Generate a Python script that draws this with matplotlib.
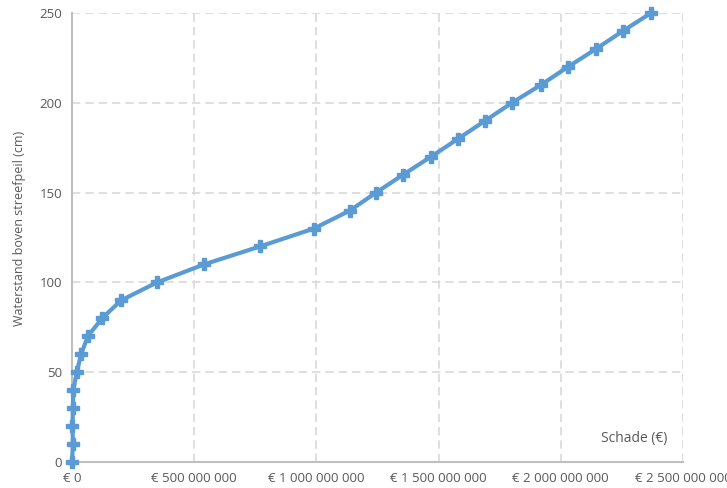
import matplotlib
matplotlib.use('Agg')
import matplotlib.pyplot as plt
from matplotlib.ticker import FuncFormatter

waterstand = [0, 10, 20, 30, 40, 50, 60, 70, 80, 90, 100, 110, 120, 130, 140,
              150, 160, 170, 180, 190, 200, 210, 220, 230, 240, 250]
schade = [0, 4e6, 2e6, 4e6, 5e6, 20e6, 37e6, 65e6, 123e6, 201e6, 348e6, 540e6,
          769e6, 990e6, 1137e6, 1244e6, 1355e6, 1469e6, 1580e6, 1690e6, 1800e6,
          1919e6, 2029e6, 2144e6, 2254e6, 2369e6]

plt.rcParams['font.family'] = ['Open Sans', 'DejaVu Sans']

fig = plt.figure(figsize=(7.27, 4.88), dpi=100)
ax = fig.add_axes([0.099, 0.0533, 0.8405, 0.92])

ax.plot(schade, waterstand, color='#5B9BD5', linewidth=3, marker='P',
        markersize=8, zorder=3, clip_on=False)

ax.set_xlim(0, 2.5e9)
ax.set_ylim(0, 250)
ax.set_xticks([0, 0.5e9, 1.0e9, 1.5e9, 2.0e9, 2.5e9])
ax.set_yticks(range(0, 251, 50))

def euro(v, pos):
    return '€ ' + f'{int(round(v)):,}'.replace(',', ' ')

ax.xaxis.set_major_formatter(FuncFormatter(euro))
ax.grid(True, color='#D9D9D9', linestyle=(0, (5, 3)), linewidth=1.2)
ax.set_axisbelow(True)

for s in ['top', 'right']:
    ax.spines[s].set_visible(False)
for s in ['left', 'bottom']:
    ax.spines[s].set_color('#BFBFBF')
    ax.spines[s].set_linewidth(1.5)

ax.tick_params(length=0, labelsize=9.5, labelcolor='#595959', pad=7)
ax.set_ylabel('Waterstand boven streefpeil (cm)', fontsize=9, color='#595959')
ax.yaxis.set_label_coords(-0.075, 0.52)
ax.text(0.975, 0.035, 'Schade (€)', transform=ax.transAxes, ha='right',
        va='bottom', fontsize=10, color='#595959')

fig.savefig('out.png', dpi=100)
